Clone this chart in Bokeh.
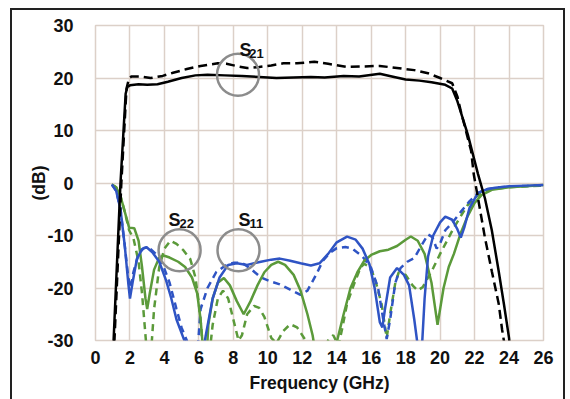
from bokeh.plotting import figure
from bokeh.embed import file_html
from bokeh.resources import INLINE
from bokeh.models import FixedTicker
from bokeh.core.properties import value

# ---- data (frequency in GHz, magnitude in dB) ----
s21_meas_f = [1.0, 1.05, 1.45, 1.75, 1.85, 2.0, 2.5, 3.0, 3.6, 4.2, 5.0, 5.8, 6.5, 7.5, 8.5, 9.5,
              10.5, 11.5, 12.5, 13.3, 14.4, 15.3, 16.5, 17.2, 18.0, 18.8, 19.5, 20.3, 20.7, 21.0,
              21.6, 22.2, 22.6, 23.0, 23.4, 23.7, 24.0, 24.1]
s21_meas_db = [-33, -30, 0, 17, 18.3, 18.6, 18.8, 18.7, 18.8, 19.3, 20.0, 20.5, 20.6, 20.5, 20.4, 20.2,
               20.0, 20.1, 20.2, 20.1, 20.4, 20.3, 20.8, 20.3, 19.7, 19.5, 19.2, 18.7, 18.0, 15.6,
               9.3, 1.7, -2.9, -9, -16.8, -23, -29.5, -33]

s21_sim_f = [1.05, 1.1, 1.5, 1.8, 1.95, 2.1, 2.6, 3.2, 3.9, 4.5, 5.3, 6.1, 7.1, 7.6, 8.3, 8.8, 9.5,
             10.2, 10.9, 11.7, 12.7, 13.5, 14.6, 15.5, 16.5, 17.5, 18.5, 19.3, 20.0, 20.7, 21.0,
             21.2, 21.8, 21.95, 22.2, 22.6, 23.0, 23.4, 23.6, 23.75, 23.8]
s21_sim_db = [-33, -30, 0, 18, 20, 20.3, 20.3, 20.0, 20.4, 21.0, 21.7, 22.3, 22.8, 22.7, 22.2, 21.9, 22.1,
              22.4, 22.8, 22.8, 23.1, 22.7, 22.1, 22.2, 22.3, 21.9, 21.5, 20.9, 20.0, 19.0, 16.5,
              13.7, 6.1, 1.7, -2.9, -10.4, -16.8, -23, -28, -31, -33]

s11_meas_f = [0.95, 1.2, 1.45, 1.7, 1.9, 2.0, 2.15, 2.4, 2.7, 2.95, 3.3, 3.7, 4.1, 4.4, 4.7, 5.1, 5.3,
              5.6, 6.2, 6.4, 6.8, 7.2, 7.7, 8.2, 8.8, 9.6, 10.2, 10.7, 11.3, 11.9, 12.5, 13.0, 13.5,
              14.0, 14.6, 15.1, 15.5, 15.9, 16.2, 16.5, 16.65, 16.8, 17.1, 17.5, 17.9, 18.2, 18.5,
              18.7, 18.8, 18.95, 19.1, 19.3, 19.6, 20.0, 20.3, 20.7, 21.0, 21.2, 21.4, 21.7, 22.2,
              22.7, 23.2, 24.0, 25.0, 26.0]
s11_meas_db = [-0.3, -1.5, -5, -12, -19, -22, -19, -14.5, -12.6, -12.2, -13.2, -15, -18.6, -22, -26, -29.5, -31,
               -33, -33, -29, -22, -18, -15.6, -15.3, -15.6, -15.0, -14.6, -14.4, -14.8, -15.3, -15.7, -15.3, -13.5,
               -11.3, -10.2, -10.8, -12.5, -15.5, -20, -26.5, -27.5, -24, -18, -16.2, -17.5, -19.5, -26,
               -31, -33, -31, -22, -14, -10, -7.5, -6.4, -7.0, -8.8, -10.4, -8.5, -4.8, -1.9,
               -1.2, -0.9, -0.6, -0.5, -0.4]

s11_sim_f = [0.95, 1.2, 1.45, 1.7, 1.9, 2.05, 2.2, 2.5, 2.8, 3.1, 3.5, 3.9, 4.3, 4.7, 5.0, 5.3, 5.5,
             5.9, 6.1, 6.5, 7.0, 7.5, 8.0, 8.5, 9.0, 9.6, 10.2, 10.7, 11.3, 11.9, 12.3, 12.8, 13.2,
             13.6, 14.0, 14.5, 14.9, 15.5, 16.0, 16.4, 16.7, 16.9, 17.1, 17.4, 17.7, 18.1, 18.5,
             18.9, 19.3, 19.55, 19.8, 20.0, 20.3, 20.7, 21.2, 21.7, 22.2, 22.7, 23.5, 24.5, 26.0]
s11_sim_db = [-0.3, -1.5, -5, -12, -18, -20, -17, -13.5, -12.4, -12.3, -13.5, -15.5, -19, -24, -27.6, -30, -33,
              -33, -24, -20, -17, -15.8, -15.2, -15.2, -16.3, -18, -18.8, -19.3, -20.3, -21.3, -20.5, -17.5, -14.8,
              -13.3, -12.4, -12.2, -12.5, -14, -16.2, -20, -26, -29.7, -26, -19, -16.2, -15, -14.3,
              -12, -9.8, -10.3, -12.5, -11.5, -9, -7.6, -5.5, -3.5, -1.9, -1.2, -0.8, -0.6, -0.5]

s22_meas_f = [0.95, 1.2, 1.45, 1.7, 1.95, 2.25, 2.5, 2.7, 2.9, 3.0, 3.15, 3.4, 3.7, 3.95, 4.3, 4.8, 5.2,
              5.6, 5.9, 6.1, 6.2, 6.3, 6.45, 6.55, 6.8, 7.1, 7.45, 7.8, 8.2, 8.6, 9.0, 9.4, 9.8, 10.2,
              10.6, 11.0, 11.5, 11.9, 12.3, 12.6, 12.8, 13.8, 14.1, 14.4, 14.8, 15.2, 15.6, 16.0, 16.5,
              17.0, 17.5, 18.0, 18.3, 18.7, 19.1, 19.5, 19.85, 20.2, 20.5, 20.8, 21.2, 21.6, 22.0,
              22.4, 23.0, 24.0, 25.0, 26.0]
s22_meas_db = [-0.3, -0.8, -2.5, -5.5, -8.5, -8.6, -11, -16, -22, -24, -21, -16.5, -14.2, -13.8, -14.2, -15.0, -16,
               -18, -21, -26, -30, -33, -33, -27, -22, -19, -18.1, -19.5, -22.5, -25, -22.5, -19.5, -17, -15.6,
               -15, -15.6, -17.5, -20.5, -25, -29, -33, -33, -29, -25, -20, -17, -14.8, -13.7, -13,
               -12.7, -12, -10.8, -10.2, -11, -13.5, -19, -27, -20, -16, -13.5, -9.5, -6.3, -3.8,
               -2.3, -1.3, -0.8, -0.6, -0.4]

s22_sim_f = [0.95, 1.2, 1.45, 1.7, 1.95, 2.2, 2.5, 2.7, 2.85, 2.95, 3.05, 3.25, 3.4, 3.7, 4.0, 4.35, 4.7,
             5.1, 5.5, 5.8, 6.0, 6.15, 6.25, 6.6, 6.8, 7.1, 7.4, 7.7, 8.0, 8.3, 8.5, 8.8, 9.2, 9.5, 9.8,
             10.2, 10.5, 10.9, 11.3, 11.7, 12.2, 12.5, 13.2, 13.5, 13.8, 14.1, 14.3, 14.6, 15.0, 15.4,
             15.6, 15.9, 16.2, 16.6, 16.9, 17.1, 17.4, 17.6, 18.0, 18.4, 18.7, 19.0, 19.3, 19.6, 20.0,
             20.4, 20.8, 21.2, 21.6, 22.0, 22.5, 23.0, 24.0, 25.0, 26.0]
s22_sim_db = [-0.3, -0.8, -2.5, -5.5, -9, -10.5, -15, -21, -27, -31, -33, -31, -24, -16, -12.5, -11, -11.6,
              -12.8, -14.5, -18, -23, -28, -33, -33, -27, -22, -20.5, -22, -26, -30, -29, -25, -23.4, -23.8, -25.5,
              -29.5, -30.5, -28.2, -26.9, -27.5, -30, -33, -33, -30, -29, -31, -28, -23, -19.3, -16,
              -15.4, -16, -18, -23, -29.5, -25, -19, -17, -17.5, -19.5, -20.5, -19.8, -18, -16.2, -13.5,
              -11, -8.5, -6.3, -4.2, -2.8, -1.8, -1.2, -0.8, -0.6, -0.5]

x_ticks = [0, 2, 4, 6, 8, 10, 12, 14, 16, 18, 20, 22, 24, 26]
y_ticks = [-30, -20, -10, 0, 10, 20, 30]
y_tick_labels = ["-30", "-20", "-10", "0", "10", "20", "30"]

FONT = "Liberation Sans"
GRID = "#dcd0c8"
BLUE = "#2f54c4"
GREEN = "#5b9a3a"

p = figure(frame_width=448, frame_height=315, x_range=(0, 26), y_range=(-30, 30),
           output_backend="svg", toolbar_location=None,
           min_border_left=95, min_border_right=23, min_border_top=25, min_border_bottom=59)
# thin dark frame around the whole picture (left, top, right), drawn as inset shadows
p.styles = {"box-shadow": ("inset 10px 0 0 0 #fff, inset 0 8px 0 0 #fff, inset -1px 0 0 0 #fff, "
                           "inset 12px 0 0 0 #222, inset 0 10px 0 0 #222, inset -3px 0 0 0 #222")}
p.border_fill_color = None
p.background_fill_color = "white"
p.outline_line_color = GRID
p.outline_line_width = 1.5

p.xaxis.ticker = FixedTicker(ticks=x_ticks)
p.yaxis.ticker = FixedTicker(ticks=y_ticks)
p.yaxis.major_label_overrides = {t: s for t, s in zip(y_ticks, y_tick_labels)}
p.xgrid.ticker = FixedTicker(ticks=x_ticks)
p.ygrid.ticker = FixedTicker(ticks=y_ticks)
p.grid.grid_line_color = GRID
p.grid.grid_line_width = 1.5

for ax in (p.xaxis, p.yaxis):
    ax.axis_line_color = None
    ax.major_tick_line_color = None
    ax.minor_tick_line_color = None
    ax.major_label_text_font = FONT
    ax.major_label_text_font_style = "bold"
    ax.major_label_text_font_size = "18px"
    ax.major_label_text_color = "#111111"
    ax.axis_label_text_font = FONT
    ax.axis_label_text_font_style = "bold"
    ax.axis_label_text_font_size = "17.5px"
    ax.axis_label_text_color = "#111111"

p.xaxis.axis_label = "Frequency (GHz)"
p.yaxis.axis_label = "(dB)"
p.xaxis.major_label_standoff = 4
p.xaxis.axis_label_standoff = 6
p.yaxis.major_label_standoff = 16
p.yaxis.axis_label_standoff = -5

# return-loss curves
p.line(s22_sim_f, s22_sim_db, line_color=GREEN, line_width=2.5, line_dash="7 5")
p.line(s11_sim_f, s11_sim_db, line_color=BLUE, line_width=2.5, line_dash="7 5")
p.line(s22_meas_f, s22_meas_db, line_color=GREEN, line_width=2.5)
p.line(s11_meas_f, s11_meas_db, line_color=BLUE, line_width=2.5)
# gain curves
p.line(s21_sim_f, s21_sim_db, line_color="black", line_width=2.5, line_dash="9 5")
p.line(s21_meas_f, s21_meas_db, line_color="black", line_width=2.5)

# annotation circles
p.scatter(x=[8.27, 4.88, 8.3], y=[20.6, -12.8, -12.8], marker="circle", size=42,
          fill_color=None, line_color="#8c8c8c", line_width=2.5)

# labels S21, S22, S11
p.text(x=[8.36, 4.24, 8.3], y=[25.3, -7.05, -7.05], text=["S", "S", "S"],
       text_font=value(FONT), text_font_style="bold", text_font_size="18px",
       text_color="#111111", text_align="left", text_baseline="alphabetic")
p.text(x=[8.93, 4.88, 8.94], y=[24.7, -7.8, -7.8], text=["21", "22", "11"],
       text_font=value(FONT), text_font_style="bold", text_font_size="13px",
       text_color="#111111", text_align="left", text_baseline="alphabetic")

open("out.html", "w").write(file_html(p, INLINE))
